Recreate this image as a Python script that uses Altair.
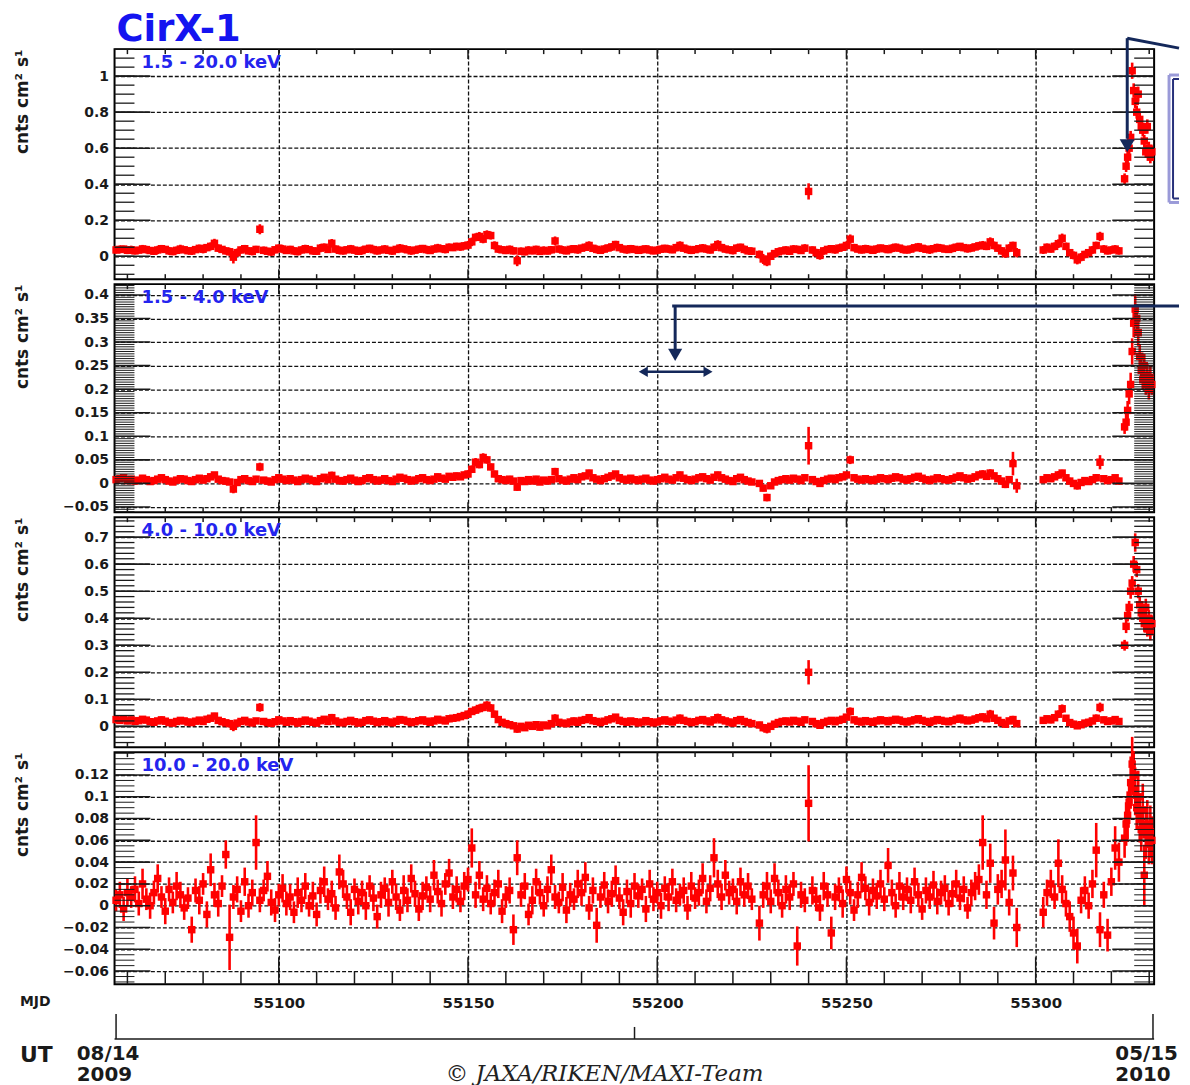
import altair as alt
import numpy as np
import pandas as pd

FONT = "DejaVu Sans"
RED = "#ff0000"
BLUE = "#2424ee"
TITLE_BLUE = "#1414f0"
NAVY = "#14285a"
INK = "#1a1a1a"

W = 1044
HEIGHTS = [231, 229, 231, 233]
XDOM = [55056.6, 55331.3]
X_MAJOR = [55100, 55150, 55200, 55250, 55300]
X_MINOR = [55060, 55070, 55080, 55090, 55110, 55120, 55130, 55140, 55160, 55170,
           55180, 55190, 55210, 55220, 55230, 55240, 55260, 55270, 55280, 55290,
           55310, 55320, 55330]
UT_LONG = [55057, 55331]
UT_SHORT = [55194]

BANDS = ["1.5 - 20.0 keV", "1.5 - 4.0 keV", "4.0 - 10.0 keV", "10.0 - 20.0 keV"]
Y_DOMAINS = [[-0.127, 1.15], [-0.061, 0.423], [-0.077, 0.774], [-0.072, 0.141]]
Y_MAJOR = [
    [0, 0.2, 0.4, 0.6, 0.8, 1],
    [-0.05, 0, 0.05, 0.1, 0.15, 0.2, 0.25, 0.3, 0.35, 0.4],
    [0, 0.1, 0.2, 0.3, 0.4, 0.5, 0.6, 0.7],
    [-0.06, -0.04, -0.02, 0, 0.02, 0.04, 0.06, 0.08, 0.1, 0.12],
]
Y_MINOR_STEP = [0.05, 0.005, 0.02, 0.005]
YTITLE = "cnts cm² s¹"

# observation day segments (MJD of first daily bin); bins are 1 day wide
SEG_STARTS = [55057, 55227, 55302]
BIN_HALF = 0.5
FLARE_MJD = [55323.5, 55323.9, 55324.3, 55324.7, 55325.1, 55325.5, 55325.9, 55326.3,
             55326.7, 55327.1, 55327.5, 55327.9, 55328.3, 55328.7, 55329.1, 55329.5,
             55329.9, 55330.3, 55330.7]
FLARE_HALF = 0.2

# ---------------- rates, in 1e-3 cnts cm^-2 s^-1 ----------------
# 1.5 - 20.0 keV
P1_A = [35, 38, 40, 33, 36, 30, 34, 41, 37, 32,
        28, 35, 42, 38, 30, 26, 33, 40, 36, 31,
        29, 37, 44, 39, 48, 55, 72, 45, 38, 30,
        25, -5, 20, 35, 42, 30, 27, 38, 150, 33,
        28, 24, 36, 45, 40, 32, 38, 30, 26, 35,
        42, 37, 30, 28, 45, 50, 38, 72, 40, 33,
        30, 36, 41, 34, 28, 32, 39, 44, 37, 30,
        35, 40, 33, 29, 38, 45, 41, 36, 30, 34,
        39, 43, 37, 32, 40, 46, 42, 38, 50, 48,
        55, 52, 58, 62, 80, 105, 110, 95, 120, 115,
        60, 40, 36, 32, 38, 30, -25, 28, 25, 34,
        30, 38, 27, 33, 29, 36, 85, 40, 35, 30,
        38, 42, 36, 45, 50, 60, 44, 38, 33, 40,
        46, 52, 65, 48, 40, 36, 42, 38, 33, 37,
        41, 35, 30, 34, 39, 44, 40, 36, 48, 60,
        45, 38, 33, 37, 42, 46, 40, 35, 50, 65,
        48, 40, 36, 32, 45, 50, 38, 30, 28]
P1_B = [10, -15, -30, 0, 15, 25, 30, 35, 28, 40,
        38, 32, 45, 360, 35, 20, 5, 30, 38, 42,
        36, 45, 50, 60, 95, 48, 40, 35, 42, 38,
        33, 40, 46, 42, 37, 44, 50, 45, 38, 35,
        40, 47, 52, 44, 39, 36, 42, 48, 45, 40,
        38, 44, 50, 55, 48, 42, 46, 52, 58, 62,
        55, 80, 60, 45, 30, 15, 45, 60, 20]
P1_C = [35, 50, 40, 55, 70, 100, 55, 20, 5, -20,
        -5, 10, 20, 35, 60, 110, 40, 30, 35, 40,
        30]
P1_F = [430, 500, 550, 600, 660, 1030, 920, 860, 800, 900,
        760, 720, 700, 640, 580, 720, 600, 550, 580]
E1_A = [20, 22, 19, 21, 23, 20, 18, 22, 21, 19,
        20, 23, 21, 19, 22, 20, 21, 24, 19, 20,
        22, 18, 21, 23, 20, 22, 25, 21, 19, 20,
        22, 35, 23, 20, 21, 19, 22, 20, 28, 21,
        19, 22, 20, 21, 23, 19, 20, 22, 21, 20,
        22, 19, 21, 20, 23, 21, 19, 24, 20, 22,
        21, 19, 22, 20, 21, 23, 19, 20, 22, 21,
        20, 22, 19, 21, 20, 23, 21, 19, 22, 20,
        21, 20, 22, 19, 21, 23, 20, 22, 21, 19,
        20, 22, 21, 23, 24, 22, 25, 23, 24, 22,
        23, 21, 19, 20, 22, 20, 30, 21, 20, 22,
        19, 21, 20, 22, 19, 21, 25, 20, 22, 19,
        21, 20, 22, 19, 21, 23, 20, 22, 19, 21,
        20, 22, 21, 19, 20, 22, 21, 20, 19, 22,
        21, 20, 19, 22, 21, 20, 22, 19, 21, 23,
        20, 22, 21, 19, 20, 22, 21, 20, 22, 24,
        21, 20, 19, 22, 21, 20, 22, 19, 21]
E1_B = [22, 28, 25, 21, 20, 22, 19, 21, 20, 22,
        21, 19, 22, 45, 20, 22, 24, 21, 19, 20,
        22, 21, 20, 22, 26, 21, 19, 20, 22, 21,
        20, 22, 19, 21, 20, 23, 21, 19, 22, 20,
        21, 20, 22, 19, 21, 23, 20, 22, 21, 19,
        20, 22, 21, 19, 20, 22, 21, 20, 22, 23,
        21, 25, 22, 20, 21, 24, 22, 21, 26]
E1_C = [22, 21, 20, 22, 24, 26, 21, 20, 22, 25,
        23, 21, 20, 22, 21, 26, 22, 20, 21, 22,
        21]
E1_F = [30, 32, 35, 33, 36, 45, 40, 38, 36, 42,
        38, 36, 35, 34, 33, 40, 36, 34, 35]

# 1.5 - 4.0 keV
P2_A = [8, 10, 12, 6, 9, 5, 7, 11, 8, 4,
        6, 9, 12, 8, 5, 3, 7, 10, 9, 6,
        4, 8, 11, 7, 10, 14, 18, 9, 6, 5,
        3, -12, 2, 8, 10, 6, 4, 9, 35, 7,
        5, 3, 8, 12, 9, 6, 10, 7, 4, 8,
        11, 9, 6, 4, 10, 13, 8, 17, 9, 6,
        5, 8, 11, 7, 4, 6, 10, 12, 8, 5,
        7, 10, 6, 4, 9, 13, 11, 8, 5, 7,
        10, 12, 8, 6, 9, 14, 11, 9, 15, 13,
        16, 14, 18, 20, 30, 45, 40, 55, 50, 35,
        20, 10, 8, 6, 9, 5, -8, 6, 4, 8,
        5, 9, 3, 7, 5, 8, 25, 10, 7, 5,
        9, 12, 8, 14, 16, 22, 12, 9, 6, 10,
        13, 16, 20, 12, 9, 7, 11, 8, 6, 9,
        11, 7, 5, 8, 10, 13, 9, 7, 12, 18,
        11, 8, 6, 9, 12, 14, 10, 7, 13, 18,
        12, 9, 6, 4, 10, 13, 8, 5, 3]
P2_B = [0, -10, -30, -5, 3, 6, 8, 10, 7, 11,
        9, 6, 12, 80, 8, 4, 0, 6, 9, 11,
        8, 12, 14, 18, 50, 12, 9, 7, 10, 8,
        6, 9, 12, 10, 8, 11, 14, 12, 9, 7,
        10, 13, 15, 11, 8, 6, 9, 12, 10, 8,
        7, 10, 13, 16, 12, 9, 11, 14, 18, 20,
        15, 22, 16, 10, 5, -2, 8, 42, -5]
P2_C = [8, 12, 10, 14, 18, 22, 12, 5, 0, -5,
        2, 6, 4, 8, 12, 45, 10, 6, 8, 12,
        5]
P2_F = [120, 130, 155, 190, 210, 280, 340, 370, 350, 320,
        270, 240, 220, 250, 210, 230, 200, 225, 210]
E2_A = [6, 7, 6, 5, 7, 6, 6, 7, 5, 6,
        7, 6, 5, 6, 7, 6, 6, 5, 7, 6,
        6, 7, 6, 5, 6, 7, 6, 6, 5, 7,
        6, 9, 6, 7, 6, 5, 6, 7, 9, 6,
        7, 6, 5, 6, 7, 6, 6, 5, 7, 6,
        6, 7, 6, 5, 6, 7, 6, 8, 5, 6,
        7, 6, 5, 6, 7, 6, 6, 5, 7, 6,
        6, 7, 6, 5, 6, 7, 6, 6, 5, 7,
        6, 7, 6, 5, 6, 7, 6, 6, 7, 6,
        7, 6, 7, 8, 8, 9, 8, 9, 8, 7,
        7, 6, 5, 6, 7, 6, 8, 6, 5, 7,
        6, 7, 6, 5, 6, 7, 8, 6, 5, 7,
        6, 7, 6, 5, 6, 7, 6, 6, 5, 7,
        6, 7, 6, 5, 6, 7, 6, 6, 5, 7,
        6, 7, 6, 5, 6, 7, 6, 6, 5, 7,
        6, 7, 6, 5, 6, 7, 6, 6, 5, 7,
        6, 7, 6, 5, 6, 7, 6, 6, 5]
E2_B = [6, 7, 8, 6, 5, 7, 6, 6, 5, 7,
        6, 7, 6, 40, 6, 7, 6, 6, 5, 7,
        6, 7, 6, 5, 9, 7, 6, 6, 5, 7,
        6, 7, 6, 5, 6, 7, 6, 6, 5, 7,
        6, 7, 6, 5, 6, 7, 6, 6, 5, 7,
        6, 7, 6, 5, 6, 7, 6, 6, 7, 8,
        7, 8, 7, 6, 7, 8, 7, 25, 15]
E2_C = [7, 6, 7, 6, 8, 7, 6, 7, 6, 8,
        7, 6, 7, 6, 8, 15, 7, 6, 7, 6,
        7]
E2_F = [15, 18, 20, 22, 25, 28, 30, 32, 30, 28,
        26, 24, 22, 25, 22, 24, 22, 23, 22]

# 4.0 - 10.0 keV
P3_A = [25, 22, 28, 20, 24, 18, 21, 26, 23, 17,
        15, 20, 24, 19, 14, 12, 18, 22, 20, 16,
        14, 19, 23, 18, 26, 30, 38, 22, 17, 13,
        10, 0, 12, 18, 22, 16, 13, 20, 70, 18,
        14, 11, 17, 24, 20, 15, 21, 17, 12, 18,
        23, 19, 15, 12, 21, 26, 18, 32, 20, 15,
        13, 18, 22, 17, 12, 15, 21, 24, 19, 14,
        17, 21, 16, 13, 19, 25, 23, 18, 14, 17,
        21, 24, 19, 15, 20, 26, 23, 20, 28, 30,
        32, 36, 40, 45, 55, 60, 66, 70, 78, 68,
        45, 25, 15, 10, 6, 2, -10, 0, -5, 4,
        0, 6, -3, 5, 2, 10, 30, 15, 12, 10,
        16, 20, 15, 22, 25, 32, 21, 18, 14, 19,
        24, 28, 34, 22, 18, 15, 20, 17, 13, 16,
        21, 17, 13, 16, 20, 24, 19, 16, 23, 30,
        22, 18, 14, 17, 22, 25, 20, 16, 24, 32,
        24, 20, 16, 12, 21, 25, 18, 14, 10]
P3_B = [5, -5, -10, 0, 8, 14, 18, 20, 16, 22,
        19, 15, 24, 200, 18, 10, 4, 14, 19, 22,
        17, 22, 26, 34, 55, 24, 19, 16, 21, 18,
        15, 20, 24, 21, 17, 22, 26, 23, 18, 16,
        20, 24, 28, 22, 18, 15, 20, 25, 22, 19,
        17, 21, 26, 30, 24, 20, 23, 27, 32, 35,
        28, 45, 30, 22, 14, 8, 20, 25, 10]
P3_C = [22, 28, 24, 32, 45, 65, 30, 14, 8, 2,
        6, 12, 15, 20, 30, 70, 24, 18, 20, 25,
        18]
P3_F = [300, 370, 410, 440, 500, 530, 600, 680, 580, 500,
        450, 420, 400, 380, 440, 360, 400, 350, 380]
E3_A = [11, 12, 10, 12, 11, 13, 10, 12, 11, 10,
        12, 11, 13, 10, 12, 11, 12, 10, 11, 13,
        12, 10, 11, 12, 13, 11, 12, 10, 12, 11,
        13, 18, 12, 11, 10, 12, 13, 11, 16, 12,
        11, 10, 12, 13, 11, 12, 10, 11, 12, 13,
        12, 11, 10, 12, 13, 11, 12, 14, 10, 11,
        12, 13, 11, 10, 12, 11, 13, 12, 10, 11,
        12, 11, 13, 10, 12, 11, 12, 13, 10, 11,
        12, 10, 11, 13, 12, 11, 10, 12, 13, 11,
        12, 13, 12, 14, 13, 14, 15, 14, 15, 14,
        13, 12, 11, 12, 10, 11, 14, 12, 11, 10,
        12, 11, 13, 10, 12, 11, 15, 12, 10, 11,
        12, 13, 11, 10, 12, 11, 13, 12, 10, 11,
        12, 11, 10, 13, 12, 11, 10, 12, 13, 11,
        12, 10, 11, 12, 13, 11, 12, 10, 12, 14,
        11, 12, 10, 13, 11, 12, 10, 11, 13, 15,
        12, 11, 13, 10, 12, 11, 12, 13, 11]
E3_B = [12, 14, 16, 12, 11, 13, 10, 12, 11, 12,
        13, 11, 12, 45, 12, 11, 13, 10, 12, 11,
        12, 11, 13, 10, 15, 12, 11, 13, 12, 11,
        10, 12, 13, 11, 12, 10, 11, 13, 12, 11,
        12, 13, 11, 12, 10, 11, 13, 12, 11, 12,
        10, 12, 11, 13, 12, 11, 12, 13, 12, 14,
        12, 16, 13, 12, 11, 13, 12, 14, 13]
E3_C = [12, 11, 13, 12, 14, 16, 12, 11, 13, 12,
        11, 12, 13, 12, 14, 18, 12, 11, 12, 13,
        12]
E3_F = [20, 25, 22, 24, 28, 26, 30, 34, 28, 26,
        30, 28, 26, 30, 32, 28, 30, 32, 30]

# 10.0 - 20.0 keV
P4_A = [5, 10, -3, 12, 8, 15, 2, 20, 6, 0,
        12, 25, 8, -5, 15, 3, 18, 10, -2, 7,
        -22, 14, 5, 20, -8, 33, 10, 2, 18, 47,
        -29, 8, 15, -5, 22, 0, 12, 58, 5, 14,
        27, 3, -4, 10, 16, 2, 8, -6, 12, 5,
        18, 0, 9, -8, 14, 22, 6, 11, -2, 31,
        20, 8, -6, 15, 4, 12, 0, 18, 7, -10,
        10, 16, 3, 22, 8, -4, 14, 5, 25, 11,
        -3, 9, 17, 6, 28, 13, 2, 20, 30, 8,
        15, 4, 18, 24, 53, 10, 28, 6, 16, 2,
        12, 20, -5, 8, 14, -22, 44, 10, 18, -8,
        5, 22, 12, 0, 15, 33, 8, 3, 17, -4,
        10, 6, 20, 12, 26, -2, 14, -18, 8, 19,
        4, 11, 23, 7, -6, 13, 2, 18, 9, 15,
        -3, 20, 6, 12, 0, 16, 8, 22, 5, 10,
        14, -2, 18, 7, 12, 25, 4, 16, 44, 20,
        8, 28, 12, 15, 4, 22, 10, 18, 6]
P4_B = [-16, 10, 18, 4, 25, 12, 0, 15, 8, 20,
        -37, 10, 5, 94, 14, 6, -2, 18, 10, -25,
        8, 15, 2, 24, 12, -4, 10, 26, 16, 3,
        14, 9, 20, 6, 37, 12, 0, 18, 8, 15,
        5, 22, 10, -3, 14, 8, 19, 4, 12, 16,
        2, 11, 20, 7, 15, -2, 12, 18, 24, 58,
        10, 39, -16, 15, 20, 42, 3, 30, -20]
P4_C = [-6, 12, 20, 8, 39, 15, 2, -10, -25, -37,
        5, 14, 0, 20, 51, -22, 10, -27, 22, 53,
        40]
P4_F = [62, 75, 83, 95, 113, 130, 120, 105, 90, 100,
        80, 70, 88, 28, 65, 75, 58, 68, 60]
E4_A = [10, 12, 11, 13, 10, 12, 11, 14, 10, 12,
        11, 13, 10, 12, 11, 10, 13, 12, 11, 10,
        12, 11, 13, 10, 12, 15, 11, 12, 10, 13,
        30, 11, 12, 10, 13, 11, 12, 25, 11, 10,
        14, 12, 11, 10, 13, 11, 12, 10, 14, 11,
        12, 10, 13, 11, 12, 14, 10, 12, 11, 16,
        13, 11, 12, 10, 12, 11, 13, 10, 12, 11,
        12, 10, 13, 11, 12, 10, 14, 11, 13, 12,
        11, 13, 10, 12, 14, 11, 12, 10, 13, 11,
        12, 10, 13, 11, 18, 12, 13, 11, 12, 10,
        12, 13, 11, 10, 12, 14, 16, 11, 12, 10,
        13, 12, 11, 10, 12, 14, 11, 10, 13, 12,
        11, 10, 13, 12, 14, 11, 12, 16, 10, 12,
        11, 12, 14, 10, 12, 11, 13, 12, 11, 10,
        12, 13, 11, 10, 12, 11, 13, 12, 11, 10,
        12, 11, 13, 10, 12, 14, 11, 12, 18, 13,
        12, 14, 11, 10, 12, 13, 11, 12, 10]
E4_B = [16, 12, 13, 11, 14, 12, 11, 13, 12, 11,
        18, 12, 11, 35, 13, 11, 12, 13, 11, 15,
        12, 11, 13, 12, 11, 10, 12, 14, 11, 12,
        11, 12, 13, 11, 16, 12, 11, 13, 12, 11,
        12, 13, 11, 10, 12, 11, 13, 12, 11, 12,
        11, 12, 13, 11, 12, 10, 12, 13, 14, 25,
        13, 18, 15, 14, 13, 28, 12, 16, 18]
E4_C = [14, 12, 13, 11, 22, 13, 12, 14, 15, 16,
        12, 13, 12, 13, 25, 16, 12, 15, 13, 20,
        18]
E4_F = [18, 20, 22, 20, 24, 25, 22, 22, 20, 24,
        22, 20, 24, 28, 22, 22, 20, 24, 22]

RATES = [(P1_A, P1_B, P1_C, P1_F), (P2_A, P2_B, P2_C, P2_F),
         (P3_A, P3_B, P3_C, P3_F), (P4_A, P4_B, P4_C, P4_F)]
ERRS = [(E1_A, E1_B, E1_C, E1_F), (E2_A, E2_B, E2_C, E2_F),
        (E3_A, E3_B, E3_C, E3_F), (E4_A, E4_B, E4_C, E4_F)]


def build_frame(rates, errs):
    mjd, half, val, err = [], [], [], []
    for start, r, e in zip(SEG_STARTS, rates[:3], errs[:3]):
        n = min(len(r), len(e))
        for i in range(n):
            mjd.append(start + i)
            half.append(BIN_HALF)
            val.append(r[i] / 1000.0)
            err.append(e[i] / 1000.0)
    n = min(len(FLARE_MJD), len(rates[3]), len(errs[3]))
    for i in range(n):
        mjd.append(FLARE_MJD[i])
        half.append(FLARE_HALF)
        val.append(rates[3][i] / 1000.0)
        err.append(errs[3][i] / 1000.0)
    df = pd.DataFrame({"mjd": mjd, "half": half, "val": val, "err": err})
    df["lo"] = df["val"] - df["err"]
    df["hi"] = df["val"] + df["err"]
    df["t0"] = df["mjd"] - df["half"]
    df["t1"] = df["mjd"] + df["half"]
    return df


def minor_ticks(dom, step):
    lo, hi = dom
    k0 = int(np.ceil(lo / step - 1e-9))
    k1 = int(np.floor(hi / step + 1e-9))
    return [round(k * step, 6) for k in range(k0, k1 + 1)]


def one():
    return pd.DataFrame({"k": [0]})


def make_panel(p):
    H = HEIGHTS[p]
    bottom = p == 3
    df = build_frame(RATES[p], ERRS[p])
    yscale = alt.Scale(domain=Y_DOMAINS[p], nice=False, zero=False)
    xscale = alt.Scale(domain=XDOM, nice=False, zero=False)
    yaxis = alt.Axis(values=Y_MAJOR[p], format="~g", title=YTITLE, grid=True,
                     gridDash=[4, 2], gridColor="#111111", gridWidth=1.3,
                     ticks=False, tickSize=0, domain=False,
                     labelFont=FONT, labelFontSize=14, labelFontWeight="bold",
                     labelColor=INK, labelPadding=6,
                     titleFont=FONT, titleFontSize=17, titleFontWeight="bold",
                     titleColor=INK, titlePadding=13, titleAnchor="end",
                     minExtent=70, maxExtent=70)
    xaxis = alt.Axis(values=X_MAJOR, format="d", title=None, grid=True,
                     gridDash=[4, 2], gridColor="#111111", gridWidth=1.3,
                     ticks=False, tickSize=0, domain=False, labels=bottom,
                     labelFont=FONT, labelFontSize=15, labelFontWeight="bold",
                     labelColor=INK, labelPadding=11)

    def X(f):
        return alt.X(f, type="quantitative", scale=xscale, axis=xaxis)

    def Y(f):
        return alt.Y(f, type="quantitative", scale=yscale, axis=yaxis)

    layers = []
    layers.append(alt.Chart(df).mark_rule(color=RED, strokeWidth=2.6).encode(
        x=X("mjd"), y=Y("lo"), y2="hi"))
    layers.append(alt.Chart(df).mark_rule(color=RED, strokeWidth=3).encode(
        x=X("t0"), x2="t1", y=Y("val")))
    layers.append(alt.Chart(df).mark_square(color=RED, size=56, opacity=1).encode(
        x=X("mjd"), y=Y("val")))

    ymaj = pd.DataFrame({"v": Y_MAJOR[p]})
    ymin = pd.DataFrame({"v": minor_ticks(Y_DOMAINS[p], Y_MINOR_STEP[p])})
    msw = 1.0 if Y_MINOR_STEP[p] < 0.01 else 1.3
    for d, x0, x1, sw in [(ymaj, 0, 36, 1.6), (ymaj, W, W - 42, 1.6),
                          (ymin, 0, 20, msw), (ymin, W, W - 20, msw)]:
        layers.append(alt.Chart(d).mark_rule(color=INK, strokeWidth=sw).encode(
            y=Y("v"), x=alt.value(x0), x2=alt.value(x1)))

    xmaj = pd.DataFrame({"m": X_MAJOR})
    xmin = pd.DataFrame({"m": X_MINOR})
    bmaj, bmin = (27, 13) if bottom else (10, 5)
    for d, y0, y1 in [(xmaj, 0, 10), (xmin, 0, 5), (xmaj, H, H - bmaj), (xmin, H, H - bmin)]:
        layers.append(alt.Chart(d).mark_rule(color=INK, strokeWidth=1.5).encode(
            x=X("m"), y=alt.value(y0), y2=alt.value(y1)))

    layers.append(alt.Chart(pd.DataFrame({"t": [BANDS[p]]})).mark_text(
        align="left", baseline="middle", font=FONT, fontSize=18, fontWeight="bold",
        color=BLUE).encode(text="t:N", x=alt.value(27), y=alt.value(14)))

    def txt(s, x, y, size, align="left", baseline="alphabetic", font=FONT,
            weight="bold", style="normal", color=INK):
        return alt.Chart(pd.DataFrame({"t": [s]})).mark_text(
            align=align, baseline=baseline, font=font, fontSize=size, fontWeight=weight,
            fontStyle=style, color=color).encode(text="t:N", x=alt.value(x), y=alt.value(y))

    def seg(x0, y0, x1, y1, color=NAVY, sw=3):
        return alt.Chart(one()).mark_rule(color=color, strokeWidth=sw).encode(
            x=alt.value(x0), y=alt.value(y0), x2=alt.value(x1), y2=alt.value(y1))

    def head(shape, x, y, size, color=NAVY):
        return alt.Chart(one()).mark_point(shape=shape, filled=True, size=size,
                                           color=color, opacity=1).encode(
            x=alt.value(x), y=alt.value(y))

    if p == 0:
        layers.append(txt("CirX-1", 2, -37, 37, baseline="top", color=TITLE_BLUE))
        # slide callout overlay
        layers.append(seg(1017, -11, 1017, 90))
        layers.append(head("triangle-down", 1017, 97, 230))
        layers.append(seg(1017, -11, 1069, -1))
        layers.append(seg(1059, 26, 1059, 154, color="#9a9ad8", sw=3))
        layers.append(seg(1063, 30, 1063, 150, color="#26307a", sw=2))
        layers.append(seg(1059, 26, 1069, 26, color="#9a9ad8", sw=3))
        layers.append(seg(1059, 154, 1069, 154, color="#9a9ad8", sw=3))
        layers.append(seg(1063, 30, 1069, 30, color="#26307a", sw=2))
        layers.append(seg(1063, 150, 1069, 150, color="#26307a", sw=2))
    if p == 1:
        layers.append(seg(560, 22, 1069, 22))
        layers.append(seg(563, 22, 563, 66))
        layers.append(head("triangle-down", 563, 71, 200))
        layers.append(seg(533, 88, 593, 88, sw=2.5))
        layers.append(head("triangle-left", 531, 88, 110))
        layers.append(head("triangle-right", 596, 88, 110))
    if bottom:
        layers.append(txt("MJD", -95, H + 18, 14, baseline="middle"))
        layers.append(alt.Chart(one()).mark_rule(color=INK, strokeWidth=1.5).encode(
            x=alt.value(0), x2=alt.value(W), y=alt.value(H + 55)))
        layers.append(alt.Chart(pd.DataFrame({"m": UT_LONG})).mark_rule(
            color=INK, strokeWidth=1.5).encode(x=X("m"), y=alt.value(H + 30), y2=alt.value(H + 55)))
        layers.append(alt.Chart(pd.DataFrame({"m": UT_SHORT})).mark_rule(
            color=INK, strokeWidth=1.5).encode(x=X("m"), y=alt.value(H + 43), y2=alt.value(H + 55)))
        layers.append(txt("UT", -95, H + 78, 22))
        layers.append(txt("08/14", -38, H + 76, 20))
        layers.append(txt("2009", -38, H + 97, 20))
        layers.append(txt("05/15", 1005, H + 76, 20))
        layers.append(txt("2010", 1005, H + 97, 20))
        layers.append(txt("© JAXA/RIKEN/MAXI-Team", 492, H + 97, 23, align="center",
                          font="DejaVu Serif", weight="normal", style="italic",
                          color="#222222"))

    return alt.layer(*layers).properties(width=W, height=H)


panels = [make_panel(p) for p in range(4)]
chart = alt.vconcat(*panels, spacing=5, bounds="flush").properties(
    padding={"left": 5, "top": 0, "right": 0, "bottom": 0},
    background="white",
).configure_view(stroke="black", strokeWidth=2)

chart.save("out.html", embed_options={"renderer": "svg", "actions": False})
